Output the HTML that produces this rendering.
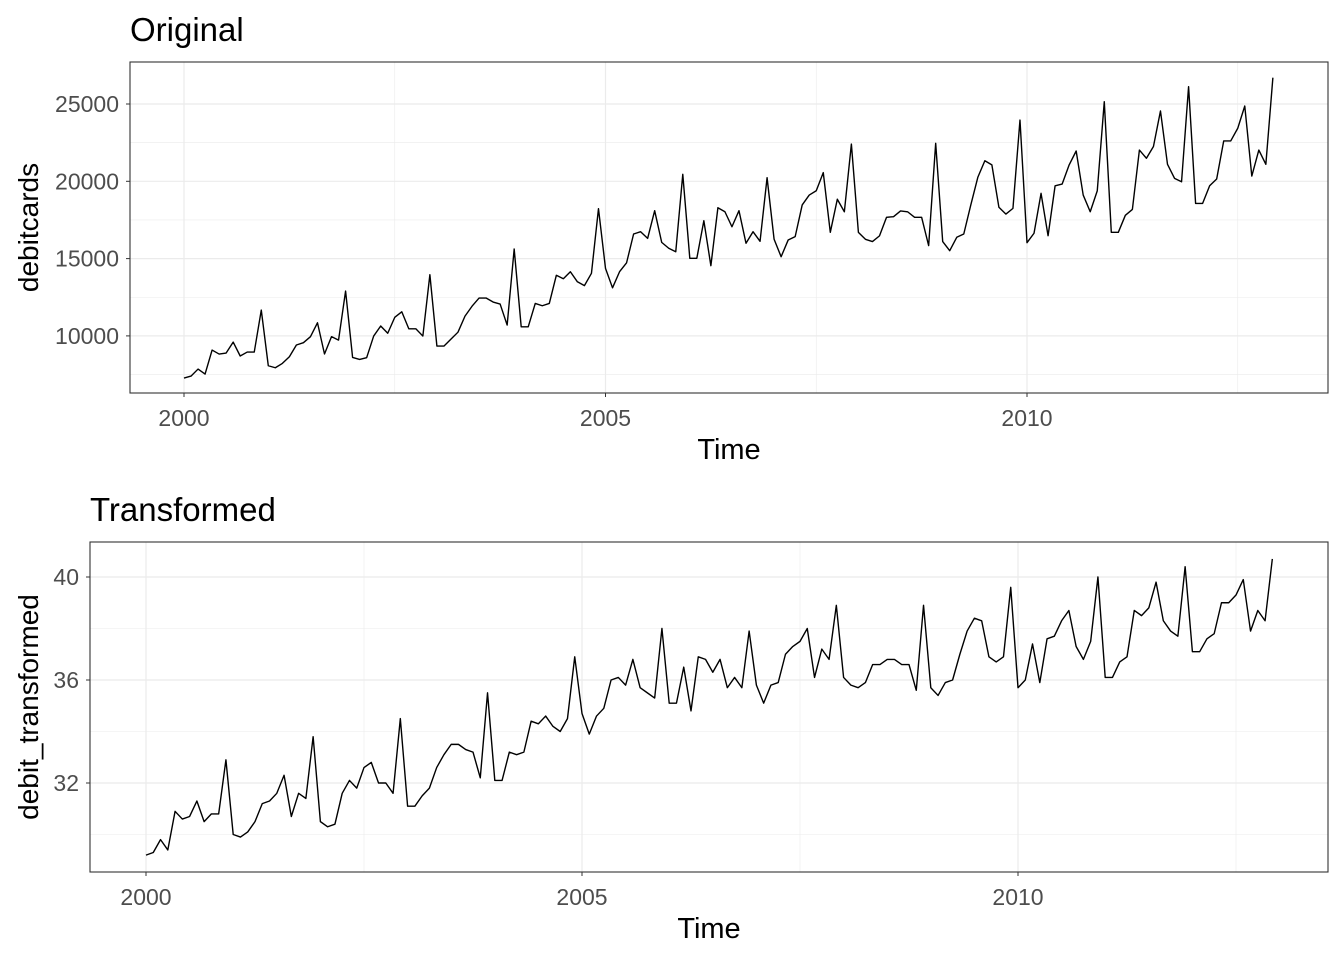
<!DOCTYPE html>
<html><head><meta charset="utf-8"><style>
body{margin:0;background:#fff}
svg{display:block;font-family:"Liberation Sans",sans-serif}
</style></head><body>
<svg id="c" width="1344" height="960" viewBox="0 0 1344 960" xmlns="http://www.w3.org/2000/svg"></svg>
<script>
const original=[7273,7400,7855,7530,9085,8825,8890,9600,8700,8955,8955,11670,
8070,7940,8220,8650,9410,9560,9950,10850,8830,9950,9730,12900,
8610,8480,8590,9990,10640,10170,11200,11560,10460,10460,9990,13960,
9340,9340,9790,10240,11280,11920,12450,12450,12190,12060,10700,15620,
10590,10590,12100,11950,12100,13920,13700,14150,13500,13250,14050,18230,
14370,13110,14150,14730,16590,16740,16310,18100,16050,15670,15440,20450,
15020,15020,17450,14540,18290,18030,17060,18100,15990,16740,16120,20230,
16250,15120,16200,16420,18470,19110,19390,20560,16700,18840,18030,22410,
16700,16250,16100,16470,17670,17710,18080,18030,17670,17670,15840,22460,
16100,15510,16380,16590,18470,20260,21330,21060,18320,17880,18250,23960,
16030,16640,19220,16480,19710,19820,21060,21960,19110,18030,19380,25150,
16700,16700,17800,18180,22020,21490,22250,24550,21100,20190,19970,26120,
18570,18570,19710,20150,22610,22610,23430,24870,20340,22020,21100,26700];
const transformed=[29.2,29.3,29.8,29.4,30.9,30.6,30.7,31.3,30.5,30.8,30.8,32.9,
30.0,29.9,30.1,30.5,31.2,31.3,31.6,32.3,30.7,31.6,31.4,33.8,
30.5,30.3,30.4,31.6,32.1,31.8,32.6,32.8,32.0,32.0,31.6,34.5,
31.1,31.1,31.5,31.8,32.6,33.1,33.5,33.5,33.3,33.2,32.2,35.5,
32.1,32.1,33.2,33.1,33.2,34.4,34.3,34.6,34.2,34.0,34.5,36.9,
34.7,33.9,34.6,34.9,36.0,36.1,35.8,36.8,35.7,35.5,35.3,38.0,
35.1,35.1,36.5,34.8,36.9,36.8,36.3,36.8,35.7,36.1,35.7,37.9,
35.8,35.1,35.8,35.9,37.0,37.3,37.5,38.0,36.1,37.2,36.8,38.9,
36.1,35.8,35.7,35.9,36.6,36.6,36.8,36.8,36.6,36.6,35.6,38.9,
35.7,35.4,35.9,36.0,37.0,37.9,38.4,38.3,36.9,36.7,36.9,39.6,
35.7,36.0,37.4,35.9,37.6,37.7,38.3,38.7,37.3,36.8,37.5,40.0,
36.1,36.1,36.7,36.9,38.7,38.5,38.8,39.8,38.3,37.9,37.7,40.4,
37.1,37.1,37.6,37.8,39.0,39.0,39.3,39.9,37.9,38.7,38.3,40.7];
const startYear=2000;
const xTicks=[2000,2005,2010];
const xMinor=[2002.5,2007.5,2012.5];
const yTicks1=[10000,15000,20000,25000];
const yMinor1=[7500,12500,17500,22500];
const yTicks2=[32,36,40];
const yMinor2=[30,34,38];

const NS="http://www.w3.org/2000/svg";
const svg=document.getElementById('c');
function mk(tag,attrs,parent){const e=document.createElementNS(NS,tag);for(const k in attrs)e.setAttribute(k,attrs[k]);(parent||svg).appendChild(e);return e;}

function panel(cfg){
  const g=mk('g',{});
  
  
  const {L,R,T,B}=cfg;
  const xs=yr=>cfg.x0+(yr-2000)*cfg.xs;
  const ys=v=>cfg.yref+(cfg.vref-v)*cfg.ys;
  cfg.yMinor.forEach(v=>{const l=mk('line',{x1:L,x2:R,y1:ys(v),y2:ys(v),stroke:'#ebebeb','stroke-width':0.6},g);});
  xMinor.forEach(v=>{const l=mk('line',{x1:xs(v),x2:xs(v),y1:T,y2:B,stroke:'#ebebeb','stroke-width':0.6},g);});
  cfg.yTicks.forEach(v=>{const y=ys(v);const l=mk('line',{x1:L,x2:R,y1:y,y2:y,stroke:'#ebebeb','stroke-width':1.2},g);
    const tk=mk('line',{x1:L-4,x2:L,y1:y,y2:y,stroke:'#333','stroke-width':1},g);
    const t=mk('text',{x:L-11,y:y+8,'text-anchor':'end','font-size':23,fill:'#4d4d4d'},g);t.textContent=v;});
  xTicks.forEach(v=>{const x=xs(v);const l=mk('line',{x1:x,x2:x,y1:T,y2:B,stroke:'#ebebeb','stroke-width':1.2},g);
    const tk=mk('line',{x1:x,x2:x,y1:B,y2:B+4,stroke:'#333','stroke-width':1},g);
    const t=mk('text',{x:x,y:B+33,'text-anchor':'middle','font-size':23,fill:'#4d4d4d'},g);t.textContent=v;});
  const pts=cfg.data.map((v,i)=>xs(startYear+i/12).toFixed(2)+','+ys(v).toFixed(2)).join(' ');
  const pl=mk('polyline',{points:pts,fill:'none',stroke:'#000','stroke-width':1.4,'stroke-linejoin':'round'},g);
  
  const r=mk('rect',{x:L,y:T,width:R-L,height:B-T,fill:'none',stroke:'#333','stroke-width':1.1},g);
  
  const ti=mk('text',{x:L,y:T-21,'font-size':33,fill:'#000'},g);ti.textContent=cfg.title;
  
  const xt=mk('text',{x:(L+R)/2,y:B+66,'text-anchor':'middle','font-size':29,fill:'#000'},g);xt.textContent='Time';
  
  const cy=(T+B)/2;
  const yt=mk('text',{x:38,y:cy,'text-anchor':'middle','font-size':28,fill:'#000',transform:`rotate(-90 38 ${cy})`},g);yt.textContent=cfg.ytitle;
  
}
panel({name:'original-panel',L:130,R:1328,T:62,B:393,x0:184,xs:84.3,yref:104,vref:25000,ys:77.3/5000,yTicks:yTicks1,yMinor:yMinor1,data:original,title:'Original',ytitle:'debitcards'});
panel({name:'transformed-panel',L:90,R:1328,T:542,B:872,x0:146,xs:87.2,yref:680,vref:36,ys:25.75,yTicks:yTicks2,yMinor:yMinor2,data:transformed,title:'Transformed',ytitle:'debit_transformed'});
</script>
</body></html>
